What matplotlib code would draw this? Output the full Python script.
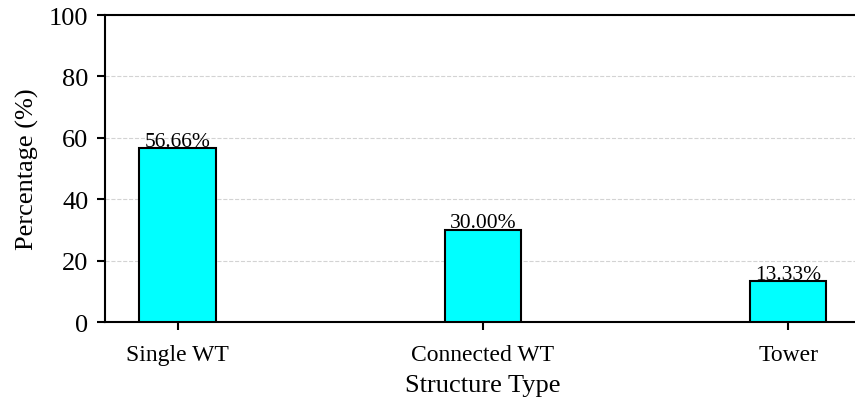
import matplotlib
matplotlib.use("Agg")
import matplotlib.pyplot as plt
import numpy as np

# data
categories = ["Single WT", "Connected WT", "Tower"]
percentages = [56.66, 30.00, 13.33]

plt.rcParams['font.family'] = ['Liberation Serif', 'DejaVu Serif']

fig = plt.figure(figsize=(8.55, 4.02), dpi=100)
ax = fig.add_axes([0.1228, 0.1965, 0.884, 0.7635])

x = np.arange(len(categories))
bars = ax.bar(x, percentages, width=0.25, color='cyan', edgecolor='black', linewidth=1.5, zorder=3)

for b, v in zip(bars, percentages):
    ax.text(b.get_x() + b.get_width() / 2, v - 0.8, f"{v:.2f}%", ha='center', va='bottom', fontsize=15.5)

ax.set_ylim(0, 100)
ax.set_xticks(x)
ax.set_xticklabels(categories, fontsize=17)
ax.tick_params(axis='y', labelsize=19, pad=6)
ax.tick_params(axis='x', pad=10)
ax.tick_params(width=1.5, length=6)
ax.set_xlabel("Structure Type", fontsize=19, labelpad=6)
ax.set_ylabel("Percentage (%)", fontsize=19, labelpad=7)
ax.yaxis.grid(True, linestyle='--', color='lightgray', linewidth=0.8, zorder=0)
ax.set_axisbelow(True)
for s in ax.spines.values():
    s.set_linewidth(1.5)

fig.savefig("out.png", dpi=100)
